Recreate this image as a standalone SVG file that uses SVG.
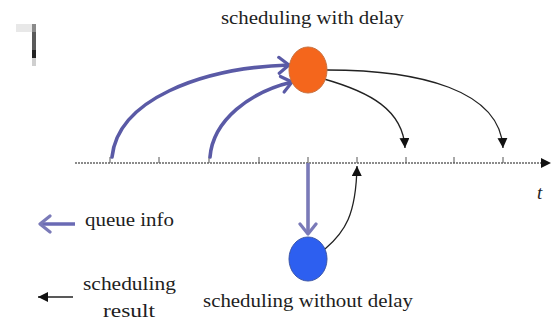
<svg xmlns="http://www.w3.org/2000/svg" width="552" height="322" viewBox="0 0 552 322">
  <style>
    text { font-family: "Liberation Serif", "Times New Roman", Times, serif; }
    .lbl { font-size: 19px; fill: #1e1e1e; }
    .axis { stroke: #666; stroke-width: 1.3; fill: none; stroke-dasharray: 2 1; }
    .tick { stroke: #555; stroke-width: 1; }
    .q { stroke: #5a5aa6; stroke-width: 3.6; fill: none; stroke-linecap: round; }
    .qv { stroke: #7a7ab8; stroke-width: 3.6; fill: none; }
    .r { stroke: #222; stroke-width: 1.3; fill: none; }
  </style>
  <defs>
    <marker id="chev" markerUnits="userSpaceOnUse" markerWidth="16" markerHeight="20" refX="13" refY="10" orient="auto">
      <path d="M3,2 L13,10 L3,18" fill="none" stroke="#5a5aa6" stroke-width="3.2" stroke-linecap="round" stroke-linejoin="round"/>
    </marker>
    <marker id="chevLight" markerUnits="userSpaceOnUse" markerWidth="16" markerHeight="20" refX="13" refY="10" orient="auto">
      <path d="M3,2 L13,10 L3,18" fill="none" stroke="#7a7ab8" stroke-width="3.2" stroke-linecap="round" stroke-linejoin="round"/>
    </marker>
    <marker id="tri" markerUnits="userSpaceOnUse" markerWidth="12" markerHeight="10" refX="10" refY="5" orient="auto">
      <path d="M0,0 L10,5 L0,10 Z" fill="#111"/>
    </marker>
  </defs>

  <!-- small mark top-left -->
  <g id="mark">
    <rect x="16" y="24" width="17" height="8" fill="#e8e8e8"/>
    <rect x="32" y="24" width="4" height="8" fill="#8a8a8a"/>
    <rect x="32" y="32" width="4" height="18" fill="#5a5a5a"/>
    <rect x="32" y="50" width="4" height="8" fill="#222"/>
    <rect x="32" y="58" width="4" height="8" fill="#cfcfcf"/>
  </g>

  <!-- time axis -->
  <g id="axis">
    <line class="axis" x1="75" y1="163" x2="543" y2="163"/>
    <path d="M541,158 L551,163 L541,168 Z" fill="#111"/>
    <g class="tick">
      <line x1="110" y1="157" x2="110" y2="163"/>
      <line x1="159" y1="157" x2="159" y2="163"/>
      <line x1="209" y1="157" x2="209" y2="163"/>
      <line x1="259" y1="157" x2="259" y2="163"/>
      <line x1="308" y1="157" x2="308" y2="163"/>
      <line x1="357" y1="157" x2="357" y2="163"/>
      <line x1="406" y1="157" x2="406" y2="163"/>
      <line x1="454" y1="157" x2="454" y2="163"/>
      <line x1="503" y1="157" x2="503" y2="163"/>
    </g>
    <text class="lbl" x="537" y="199" font-style="italic" font-size="18" font-family="Liberation Serif">t</text>
  </g>

  <!-- connectors -->
  <g id="connectors">
    <path class="q" d="M112,157 C118,100 200,68 289,65" marker-end="url(#chev)"/>
    <path class="q" d="M210,157 C213,120 250,92 292,82" marker-end="url(#chev)"/>
    <path class="qv" d="M308,163 L308,234" marker-end="url(#chevLight)"/>
    <path class="r" d="M327,70 C420,70 500,90 503,148" marker-end="url(#tri)"/>
    <path class="r" d="M324,79 C370,92 403,110 405,148" marker-end="url(#tri)"/>
    <path class="r" d="M325,249 C345,232 356,215 357,166" marker-end="url(#tri)"/>
  </g>

  <g id="delayed">
    <ellipse cx="308" cy="70" rx="19" ry="23" fill="#f4661c" stroke="#c8703e" stroke-width="1"/>
    <text class="lbl" x="221" y="24" textLength="183" lengthAdjust="spacingAndGlyphs" font-family="Liberation Serif">scheduling with delay</text>
  </g>

  <g id="immediate">
    <ellipse cx="308" cy="259" rx="19" ry="22" fill="#2d5ff0" stroke="#3a55a8" stroke-width="1"/>
    <text class="lbl" x="203" y="307" textLength="210" lengthAdjust="spacingAndGlyphs" font-family="Liberation Serif">scheduling without delay</text>
  </g>

  <!-- legend -->
  <g id="legend-queue">
    <line x1="75" y1="224" x2="40" y2="224" stroke="#6a6ab4" stroke-width="3.6" marker-end="url(#chevLight)"/>
    <text class="lbl" x="85" y="226" textLength="89" lengthAdjust="spacingAndGlyphs" font-family="Liberation Serif">queue info</text>
  </g>
  <g id="legend-result">
    <line x1="73" y1="297" x2="38" y2="297" stroke="#222" stroke-width="1.5" marker-end="url(#tri)"/>
    <text class="lbl" x="83" y="290" textLength="93" lengthAdjust="spacingAndGlyphs" font-family="Liberation Serif">scheduling</text>
    <text class="lbl" x="103" y="317" textLength="52" lengthAdjust="spacingAndGlyphs" font-family="Liberation Serif">result</text>
  </g>
</svg>
